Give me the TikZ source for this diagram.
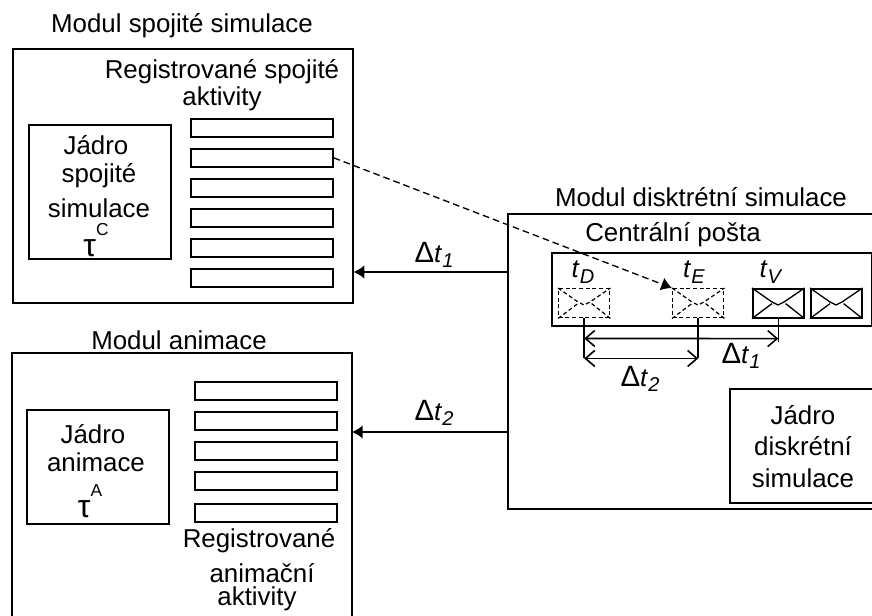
\documentclass[tikz,border=0pt]{standalone}
\usepackage{fontspec}
\setmainfont{Liberation Sans}
\usetikzlibrary{arrows.meta,calc}
\def\px{0.75pt}
\newcommand{\dt}[1]{{\fontsize{22}{22}\selectfont Δ}\textit{t}\raisebox{-0.35ex}{\fontsize{15}{15}\selectfont\textit{#1}}}
\newcommand{\tm}[1]{\textit{t}\raisebox{-0.4ex}{\fontsize{15}{15}\selectfont\textit{#1}}}
\newcommand{\tausup}[1]{{\fontsize{24}{24}\selectfont τ}\raisebox{1.5ex}{\fontsize{13}{13}\selectfont #1}}
\tikzset{
  txt/.style={font=\fontsize{19.4}{19.4}\selectfont, inner sep=0pt, align=center},
  box/.style={draw, line width=1.2pt, inner sep=0pt, anchor=north west},
  line/.style={line width=1.2pt},
  bar/.style={box, minimum width=142*\px, minimum height=18*\px},
  env/.style={box, minimum width=51*\px, minimum height=29*\px},
  envd/.style={env, densely dashed, line width=1.1pt},
  filled/.style={line, -{Latex[length=8pt,width=10pt]}},
  barb/.style={line, {Straight Barb[length=7pt,width=12pt]}-{Straight Barb[length=7pt,width=12pt]}}
}
% Flap of one envelope
\newcommand{\flap}[2]{%
  \draw[#2] (#1.north west) -- ++(20,14) -- ++(6,3) -- ++(6,-3) -- (#1.north east);
  \draw[#2] (#1.south west) -- ++(20,-15);
  \draw[#2] (#1.south east) -- ++(-19,-15);
}
\begin{document}
\begin{tikzpicture}[x=\px, y=-\px]
\useasboundingbox (0,0) rectangle (872,616);

% Module of continuous simulation
\node[txt] (titleC) at (182,26) {Modul spojité simulace};
\node[box, minimum width=340*\px, minimum height=254*\px] (modC) at (12,48) {};
\node[txt] (regC) at (222,85) {Registrované spojité\\[0.5pt]aktivity};
\node[box, minimum width=142*\px, minimum height=134*\px] (coreC) at (28,124) {};
\node[txt] (coreCa) at (96,145) {Jádro};
\node[txt] (coreCb) at (99,176) {spojité};
\node[txt] (coreCc) at (99,208) {simulace};
\node[txt] (coreCd) at (96,240) {\tausup{C}};
\node[bar] (barCa) at (190,118) {};
\node[bar] (barCb) at (190,148) {};
\node[bar] (barCc) at (190,178) {};
\node[bar] (barCd) at (190,208) {};
\node[bar] (barCe) at (190,238) {};
\node[bar] (barCf) at (190,268) {};

% Module of animation (runs off the bottom edge)
\node[txt] (titleA) at (179,340) {Modul animace};
\draw[line] (12,616) -- (12,353) -- (352,353) -- (352,616);
\coordinate (modAin) at (352,432);
\node[box, minimum width=142*\px, minimum height=114*\px] (coreA) at (26,409) {};
\node[txt] (coreAa) at (93,434) {Jádro};
\node[txt] (coreAb) at (96,462) {animace};
\node[txt] (coreAc) at (90,501) {\tausup{A}};
\node[bar] (barAa) at (194,381) {};
\node[bar] (barAb) at (194,411) {};
\node[bar] (barAc) at (194,441) {};
\node[bar] (barAd) at (194,471) {};
\node[bar] (barAe) at (194,503) {};
\node[txt] (regAa) at (259,541) {Registrované};
\node[txt] (regAb) at (262,573) {animační};
\node[txt] (regAc) at (257,599) {aktivity};

% Module of discrete simulation (runs off the right edge)
\node[txt] (titleD) at (701,197) {Modul disktrétní simulace};
\draw[line] (872,214) -- (508,214) -- (508,509) -- (872,509);
\coordinate (modDa) at (508,272);
\coordinate (modDb) at (508,432);
\node[txt] (post) at (673,235) {Centrální pošta};
\node[box, minimum width=320*\px, minimum height=73*\px] (postbox) at (551,252) {};
\draw[line] (872,389) -- (730,389) -- (730,503) -- (872,503);
\node[txt] (coreDa) at (803,415) {Jádro};
\node[txt] (coreDb) at (803,446) {diskrétní};
\node[txt] (coreDc) at (803,478) {simulace};

% Envelopes
\node[envd] (envD) at (558,288) {};
\node[envd] (envE) at (672,288) {};
\node[env] (envV) at (752,288) {};
\node[env] (envW) at (810,288) {};
\flap{envD}{densely dashed, line width=0.9pt}
\flap{envE}{densely dashed, line width=0.9pt}
\flap{envV}{line width=1pt}
\flap{envW}{line width=1pt}
\node[txt] (labD) at (583,272) {\tm{D}};
\node[txt] (labE) at (694,272) {\tm{E}};
\node[txt] (labV) at (771,272) {\tm{V}};

% Time differences
\coordinate (spanDa) at ($(envD.south)+(0,20)$);
\coordinate (spanDb) at ($(envD.south)+(0,40)$);
\coordinate (spanE) at ($(envE.south)+(0,40)$);
\coordinate (spanV) at ($(envV.south)+(0,20)$);
\draw[line] (envD.south) -- (spanDb);
\draw[line] (envE.south) -- (spanE);
\draw[line] (envV.south) -- ($(spanV)+(0,3)$);
\draw[barb] (spanDa) -- (spanV);
\draw[barb] (spanDb) -- (spanE);
\node[txt] (labSa) at (741,356) {\dt{1}};
\node[txt] (labSb) at (640,379) {\dt{2}};

% Connectors between the modules
\draw[filled] (modDa) -- (modDa -| modC.east);
\draw[filled] (modDb) -- (modAin);
\node[txt] (labA) at (434,255) {\dt{1}};
\node[txt] (labB) at (434,413) {\dt{2}};
\draw[filled, dash pattern=on 5pt off 3pt, line width=1pt] (barCb.east) -- (envE.north west);

\end{tikzpicture}
\end{document}
